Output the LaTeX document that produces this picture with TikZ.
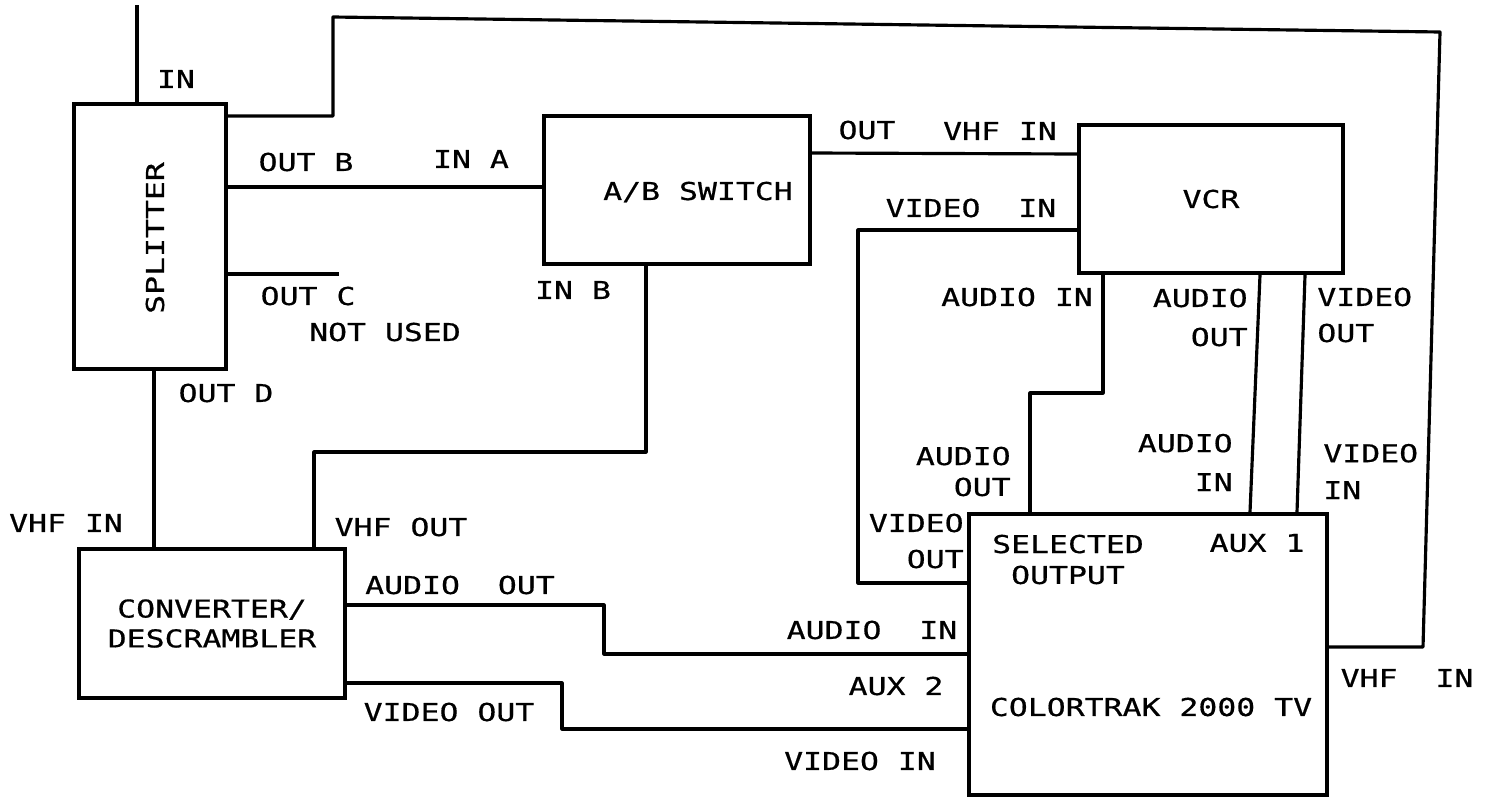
\documentclass[tikz,border=0pt]{standalone}
\usepackage{fontspec}
\newfontfamily\plotfont[FakeStretch=1.28,FakeBold=0.6]{DejaVu Sans Mono}
\tikzset{
  box/.style={draw, line width=2.3pt, inner sep=0pt},
  wire/.style={line width=1.8pt, line join=round},
  lbl/.style={inner sep=0pt, font=\plotfont\fontsize{14}{17}\selectfont},
}
\begin{document}
\begin{tikzpicture}[x=0.02cm,y=-0.02cm]
  \useasboundingbox (0,0) rectangle (1493,798);
  % units
  \node[box, minimum width=3.04cm, minimum height=5.3cm] (split) at (150,236.5) {};
  \node[lbl, rotate=90] (splitlbl) at (155,238) {SPLITTER};
  \node[box, minimum width=5.32cm, minimum height=2.96cm] (absw) at (677,190) {};
  \node[lbl] (abswlbl) at (698,192) {A/B SWITCH};
  \node[box, lbl, minimum width=5.28cm, minimum height=2.96cm] (vcr) at (1211,199) {VCR};
  \node[box, lbl, align=center, minimum width=5.32cm, minimum height=2.98cm] (conv) at (212,623.5) {CONVERTER/\\DESCRAMBLER};
  \node[box, minimum width=7.16cm, minimum height=5.62cm] (tv) at (1148,654.5) {};
  \node[lbl, align=center] (tvsel) at (1068,559.5) {SELECTED\\[0.6pt]OUTPUT};
  \node[lbl] (tvaux1) at (1257,543) {AUX 1};
  \node[lbl] (tvname) at (1151,707) {COLORTRAK 2000 TV};

  % cables
  \coordinate (antenna) at (137,5);
  \coordinate (outc) at (339,274);
  \draw[wire] (antenna) -- (split.north -| antenna);
  \draw[wire] (split.east |- 0,116) -| (333,17) -- (1440,32) -- (1423,647) -- (tv.east |- 0,647);
  \draw[wire] (split.east |- 0,187) -- (absw.west |- 0,187);
  \draw[wire] (split.east |- outc) -- (outc);
  \draw[wire] (split.south -| 154,0) -- (conv.north -| 154,0);
  \draw[wire] (absw.south -| 646,0) |- (314,452) -- (conv.north -| 314,0);
  \draw[wire] (absw.east |- 0,153) -- (vcr.west |- 0,154);
  \draw[wire] (vcr.west |- 0,230) -| (858,583) -- (tv.west |- 0,583);
  \draw[wire] (vcr.south -| 1103,0) |- (1030,393) -- (tv.north -| 1030,0);
  \draw[wire] (vcr.south -| 1260,0) -- (tv.north -| 1250,0);
  \draw[wire] (vcr.south -| 1305,0) -- (tv.north -| 1297,0);
  \draw[wire] (conv.east |- 0,605) -| (604,654) -- (tv.west |- 0,654);
  \draw[wire] (conv.east |- 0,683) -| (562,729) -- (tv.west |- 0,729);

  % port names
  \node[lbl] (lin) at (176,79) {IN};
  \node[lbl] (loutb) at (306,162) {OUT B};
  \node[lbl] (lina) at (471,159) {IN A};
  \node[lbl] (loutc) at (308,296) {OUT C};
  \node[lbl] (lnotused) at (385,332) {NOT USED};
  \node[lbl] (loutd) at (226,393) {OUT D};
  \node[lbl] (linb) at (573,290) {IN B};
  \node[lbl] (lout) at (867,130) {OUT};
  \node[lbl] (lvcrvhf) at (1000,131) {VHF IN};
  \node[lbl] (lvcrvid) at (971,208) {VIDEO~~IN};
  \node[lbl] (lvcraud) at (1017,297) {AUDIO IN};
  \node[lbl, align=right, anchor=east] (lvcraudout) at (1248,317.5) {AUDIO\\[5.2pt]OUT};
  \node[lbl, align=left, anchor=west] (lvcrvidout) at (1317,315) {VIDEO\\[3.5pt]OUT};
  \node[lbl, align=right, anchor=east] (ltvaudout) at (1011,471.5) {AUDIO\\[0.6pt]OUT};
  \node[lbl, align=right, anchor=east] (ltvaudin) at (1233,462.5) {AUDIO\\[5.2pt]IN};
  \node[lbl, align=left, anchor=west] (ltvvidin) at (1323,471.5) {VIDEO\\[4pt]IN};
  \node[lbl, align=right, anchor=east] (ltvvidout) at (964,541) {VIDEO\\[3.5pt]OUT};
  \node[lbl] (ltvvhf) at (1407,678) {VHF~~IN};
  \node[lbl] (lconvvhfin) at (66,523) {VHF IN};
  \node[lbl] (lconvvhfout) at (401,527) {VHF OUT};
  \node[lbl] (lconvaud) at (460,585) {AUDIO~~OUT};
  \node[lbl] (laux2aud) at (872,630) {AUDIO~~IN};
  \node[lbl] (laux2) at (896,686) {AUX 2};
  \node[lbl] (lconvvid) at (449,712) {VIDEO OUT};
  \node[lbl] (laux2vid) at (860,761) {VIDEO IN};
\end{tikzpicture}
\end{document}
